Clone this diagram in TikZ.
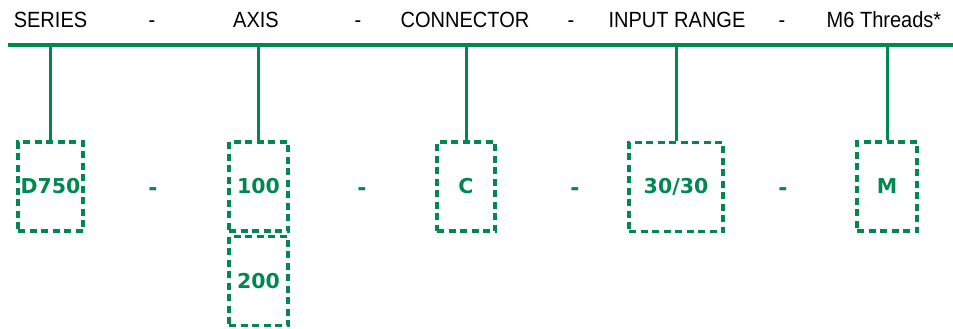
\documentclass[tikz,border=0pt]{standalone}
\usepackage{fontspec}
\setmainfont{Liberation Sans}
\newfontfamily\topfont[FakeStretch=0.91]{Liberation Sans}
\newfontfamily\boxfont{DejaVu Sans}
\definecolor{grn}{RGB}{0,135,82}
\begin{document}
\begin{tikzpicture}[x=1pt,y=-1pt,
  toplabel/.style={anchor=base,inner sep=0pt,font=\topfont\fontsize{22}{26}\selectfont},
  codebox/.style={draw=grn,line width=3.3pt,dash pattern=on 7pt off 4.5pt,minimum width=#1,minimum height=89pt,inner sep=0pt,text=grn,font=\boxfont\bfseries\fontsize{20.5}{24}\selectfont},
  codebox/.default=60pt,
  sep/.style={anchor=base,text=grn,inner sep=0pt,font=\boxfont\bfseries\fontsize{22}{26}\selectfont},
  link/.style={draw=grn,line width=3pt}]
\useasboundingbox (0,0) rectangle (953,329);
% top labels
\node[toplabel] (series) at (50.5,27.5) {SERIES};
\node[toplabel] (d1) at (152,27.5) {-};
\node[toplabel] (axis) at (256,27.5) {AXIS};
\node[toplabel] (d2) at (358,27.5) {-};
\node[toplabel] (conn) at (465,27.5) {CONNECTOR};
\node[toplabel] (d3) at (571,27.5) {-};
\node[toplabel] (range) at (677,27.5) {INPUT RANGE};
\node[toplabel] (d4) at (782,27.5) {-};
\node[toplabel] (thr) at (884,27.5) {M6 Threads*};
% top line
\coordinate (L) at (8,45);
\coordinate (R) at (953,45);
\draw[draw=grn,line width=3.3pt] (L) -- (R);
\coordinate (t1) at (50.5,45);
\coordinate (t2) at (258.5,45);
\coordinate (t3) at (466,45);
\coordinate (t4) at (676,45);
\coordinate (t5) at (887,45);
% boxes
\node[codebox=65pt] (b1) at (50.5,186.5) {\raisebox{-1pt}{D750}};
\node[codebox=59pt] (b2) at (258.5,186.5) {\raisebox{-1pt}{100}};
\node[codebox=59pt] (b2b) at (258.5,281) {\raisebox{-1pt}{200}};
\node[codebox=58pt] (b3) at (466,186.5) {\raisebox{-1pt}{C}};
\node[codebox=94pt] (b4) at (676,187) {\raisebox{-1pt}{30/30}};
\node[codebox=60pt] (b5) at (887,186.5) {\raisebox{-1pt}{M}};
% separators
\node[sep] (s1) at (153,195.5) {-};
\node[sep] (s2) at (362,195.5) {-};
\node[sep] (s3) at (575,195.5) {-};
\node[sep] (s4) at (783,195.5) {-};
% connectors
\draw[link] (t1) -- (b1.north);
\draw[link] (t2) -- (b2.north);
\draw[link] (t3) -- (b3.north);
\draw[link] (t4) -- (b4.north);
\draw[link] (t5) -- (b5.north);
\end{tikzpicture}
\end{document}
